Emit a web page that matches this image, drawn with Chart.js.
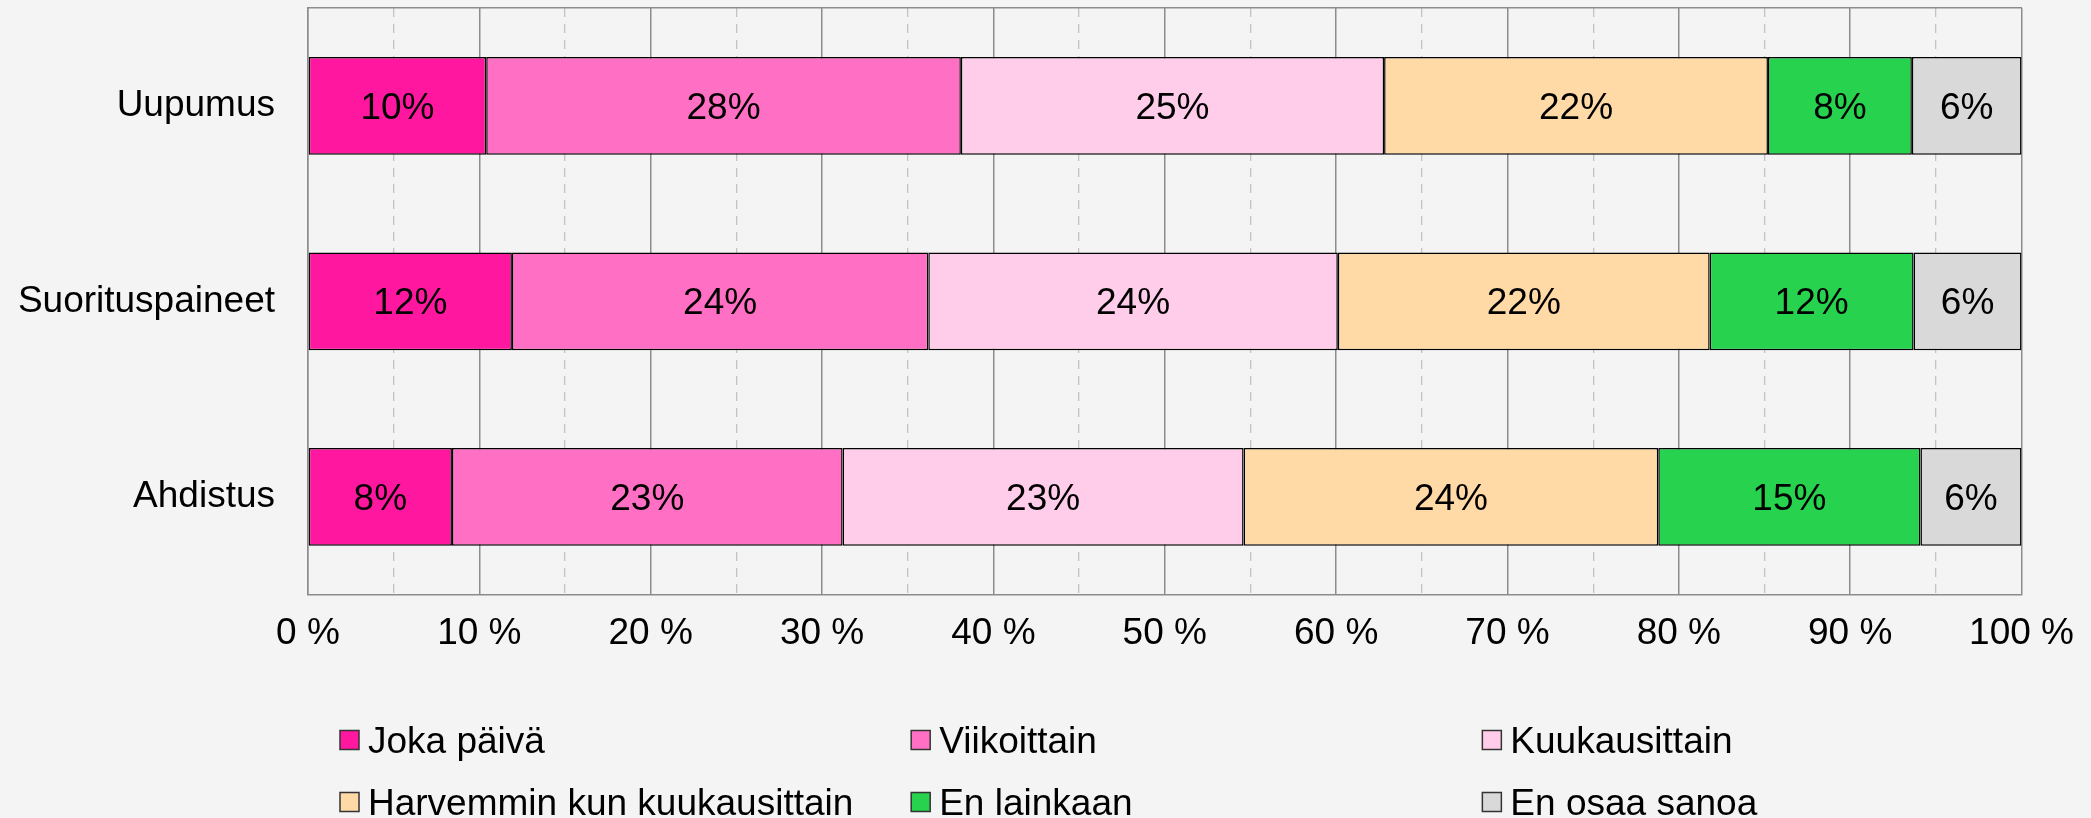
<!DOCTYPE html>
<html>
<head>
<meta charset="utf-8">
<script src="https://cdn.jsdelivr.net/npm/chart.js@4.4.1/dist/chart.umd.min.js"></script>
<style>
  html, body { margin: 0; padding: 0; background: #f4f4f4; overflow: hidden; }
  #wrap { width: 2091px; height: 818px; position: relative; }
</style>
</head>
<body>
<div id="wrap"><canvas id="kuormitus"></canvas></div>
<script>
// kategoriat ja osuudet (%)
var kategoriat = ['Uupumus', 'Suorituspaineet', 'Ahdistus'];
var sarjat = ['Joka päivä', 'Viikoittain', 'Kuukausittain', 'Harvemmin kun kuukausittain', 'En lainkaan', 'En osaa sanoa'];
var jokaPaiva = [10.4, 11.9, 8.4];
var viikoittain = [27.7, 24.3, 22.8];
var kuukausittain = [24.7, 23.9, 23.4];
var harvemmin = [22.4, 21.7, 24.2];
var enLainkaan = [8.4, 11.9, 15.3];
var enOsaa = [6.4, 6.3, 5.9];
var xTicks = [0, 10, 20, 30, 40, 50, 60, 70, 80, 90, 100];
var minorTicks = [5, 15, 25, 35, 45, 55, 65, 75, 85, 95];

var varit = ['#ff17a0', '#ff6fc3', '#ffcce9', '#ffd9a6', '#26d24e', '#d9d9d9'];
var arvot = [jokaPaiva, viikoittain, kuukausittain, harvemmin, enLainkaan, enOsaa];
var fontti = '"Liberation Sans", Arial, sans-serif';

Chart.defaults.font.family = fontti;
Chart.defaults.font.size = 37;
Chart.defaults.color = '#000';

// prosenttiluvut palkkien keskelle
const palkkiTekstit = {
    id: 'palkkiTekstit',
    afterDatasetsDraw(chart) {
        const ctx = chart.ctx;
        ctx.save();
        ctx.font = '37px ' + fontti;
        ctx.fillStyle = '#000';
        ctx.textAlign = 'center';
        ctx.textBaseline = 'alphabetic';
        chart.data.datasets.forEach(function (ds, i) {
            chart.getDatasetMeta(i).data.forEach(function (bar, j) {
                const p = bar.getProps(['x', 'y', 'base'], true);
                ctx.fillText(Math.round(ds.data[j]) + '%', (p.x + p.base) / 2, p.y + 13);
            });
        });
        ctx.restore();
    }
};

// selite kolmeen sarakkeeseen kuvan alle
const selite = {
    id: 'selite',
    afterDraw(chart) {
        const ctx = chart.ctx;
        const area = chart.chartArea;
        const sarake = (area.right - area.left) / 3;
        const rivit = [740, 802];
        ctx.save();
        ctx.font = '37px ' + fontti;
        ctx.textAlign = 'left';
        ctx.textBaseline = 'alphabetic';
        chart.data.datasets.forEach(function (ds, i) {
            const x = area.left + 32 + (i % 3) * sarake;
            const y = rivit[Math.floor(i / 3)];
            ctx.fillStyle = ds.backgroundColor;
            ctx.fillRect(x, y - 9.5, 19, 19);
            ctx.lineWidth = 1.5;
            ctx.strokeStyle = '#333';
            ctx.strokeRect(x, y - 9.5, 19, 19);
            ctx.fillStyle = '#000';
            ctx.fillText(ds.label, x + 28, y + 13);
        });
        ctx.restore();
    }
};

const ctx = document.getElementById('kuormitus');
new Chart(ctx, {
    type: 'bar',
    data: {
        labels: kategoriat,
        datasets: sarjat.map(function (nimi, i) {
            return {
                label: nimi,
                data: arvot[i],
                backgroundColor: varit[i],
                borderColor: '#000',
                borderWidth: 1.5,
                borderSkipped: false,
                barPercentage: 0.5,
                categoryPercentage: 1
            };
        })
    },
    options: {
        indexAxis: 'y',
        responsive: true,
        maintainAspectRatio: false,
        animation: false,
        layout: { padding: { top: 8, right: 67, bottom: 145, left: 0 } },
        plugins: {
            legend: { display: false },
            tooltip: { enabled: false }
        },
        scales: {
            x: {
                stacked: true,
                min: 0,
                max: 100,
                afterBuildTicks: function (s) {
                    s.ticks = xTicks.map(function (v) { return { value: v }; });
                },
                ticks: {
                    autoSkip: false,
                    maxRotation: 0,
                    padding: 17,
                    callback: function (v) { return v + ' %'; }
                },
                grid: { color: '#8c8c8c', lineWidth: 1.5, drawTicks: false },
                border: { color: '#8c8c8c', width: 1.5 }
            },
            xMinor: {
                type: 'linear',
                position: 'bottom',
                min: 0,
                max: 100,
                afterBuildTicks: function (s) {
                    s.ticks = minorTicks.map(function (v) { return { value: v }; });
                },
                ticks: { display: false },
                grid: { color: '#c3c3c3', lineWidth: 1.3, drawTicks: false },
                border: { display: false, dash: [9, 7] }
            },
            xTop: {
                type: 'linear',
                position: 'top',
                min: 0,
                max: 100,
                ticks: { display: false },
                grid: { display: false, drawTicks: false },
                border: { display: true, color: '#8c8c8c', width: 1.5 }
            },
            y: {
                stacked: true,
                afterFit: function (s) {
                    s.width = 308;
                    s.paddingTop = 0;
                    s.paddingBottom = 0;
                },
                ticks: { padding: 33 },
                grid: { display: false, drawTicks: false },
                border: { color: '#8c8c8c', width: 1.5 }
            }
        }
    },
    plugins: [palkkiTekstit, selite]
});
</script>
</body>
</html>
